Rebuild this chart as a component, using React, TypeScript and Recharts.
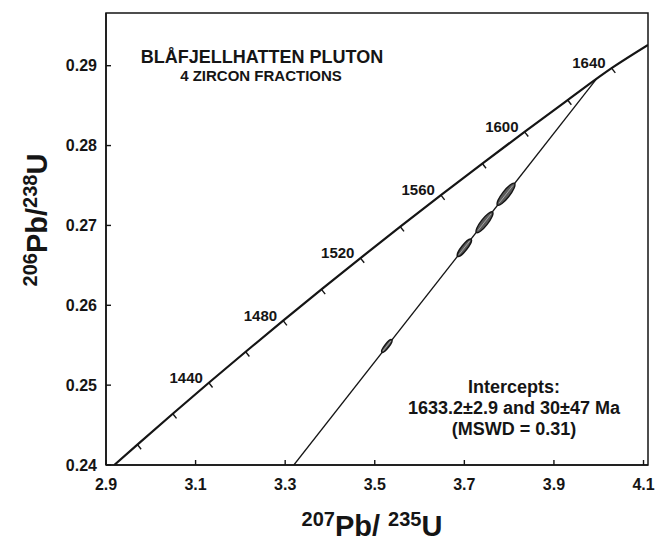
import { ComposedChart, Line, Scatter, XAxis, YAxis, ReferenceArea } from "recharts";

// axes
const X_MIN = 2.9;
const X_MAX = 4.11;
const Y_MIN = 0.24;
const Y_MAX = 0.2966;
const X_TICKS = [2.9, 3.1, 3.3, 3.5, 3.7, 3.9, 4.1];
const Y_TICKS = [0.24, 0.25, 0.26, 0.27, 0.28, 0.29];

// concordia age marks (Ma) and their ratios
const TICK_AGES = [1400, 1420, 1440, 1460, 1480, 1500, 1520, 1540, 1560, 1580, 1600, 1620, 1640];
const TICK_X = [2.9701, 3.0491, 3.1296, 3.2118, 3.2955, 3.381, 3.4681, 3.557, 3.6477, 3.7401, 3.8344, 3.9306, 4.0287];
const TICK_Y = [0.24256, 0.24642, 0.2503, 0.25418, 0.25808, 0.26199, 0.26591, 0.26984, 0.27379, 0.27775, 0.28172, 0.2857, 0.28969];
const LABELLED_AGES = [1440, 1480, 1520, 1560, 1600, 1640];
const CURVE_START = { x: 2.9184, y: 0.24 };
const CURVE_END = { x: 4.11, y: 0.2926 };

// discordia through the fractions
const DISC_X = [3.3194, 3.9951];
const DISC_Y = [0.24, 0.28834];

// zircon fractions
const FRAC_X = [3.527, 3.7, 3.745, 3.793];
const FRAC_Y = [0.2549, 0.2672, 0.2704, 0.2739];
const FRAC_ERR_X = [0.011, 0.015, 0.018, 0.019];

const W = 667;
const H = 544;
const MARGIN = { top: 13, right: 19, bottom: 49, left: 46 };
const Y_AXIS_W = 60;
const X_AXIS_H = 30;
const PLOT_W = W - MARGIN.left - MARGIN.right - Y_AXIS_W;
const PLOT_H = H - MARGIN.top - MARGIN.bottom - X_AXIS_H;
const PX_X = PLOT_W / (X_MAX - X_MIN);
const PX_Y = PLOT_H / (Y_MAX - Y_MIN);

const INK = "#151515";
const FONT = "'Liberation Sans', Arial, Helvetica, sans-serif";

const concordia = [
  CURVE_START,
  ...TICK_X.map((x, i) => ({ x, y: TICK_Y[i] })),
  CURVE_END,
];
const ageMarks = TICK_AGES.map((age, i) => ({ x: TICK_X[i], y: TICK_Y[i], age }));
const discordia = DISC_X.map((x, i) => ({ x, y: DISC_Y[i] }));
const fractions = FRAC_X.map((x, i) => ({ x, y: FRAC_Y[i], err: FRAC_ERR_X[i] }));

// pixel direction of the concordia, for the little age ticks
const cdx = (TICK_X[TICK_X.length - 1] - TICK_X[0]) * PX_X;
const cdy = (TICK_Y[TICK_Y.length - 1] - TICK_Y[0]) * PX_Y;
const clen = Math.hypot(cdx, cdy);
const NX = cdy / clen;
const NY = cdx / clen;

const ddx = (DISC_X[1] - DISC_X[0]) * PX_X;
const ddy = (DISC_Y[1] - DISC_Y[0]) * PX_Y;
const DISC_ANGLE = Math.atan2(ddy, ddx);

const AgeMark = (p: any) => {
  const { cx, cy, payload } = p;
  if (cx == null) return null;
  return (
    <g>
      <line x1={cx} y1={cy} x2={cx + NX * 6} y2={cy + NY * 6} stroke={INK} strokeWidth={1.4} />
      {LABELLED_AGES.includes(payload.age) && (
        <text x={cx - 6} y={cy} textAnchor="end" fontSize={15} fontWeight="bold" fill={INK} fontFamily={FONT}>
          {payload.age}
        </text>
      )}
    </g>
  );
};

const ErrorEllipse = (p: any) => {
  const { cx, cy, payload } = p;
  if (cx == null) return null;
  const rx = (payload.err * PX_X) / Math.cos(DISC_ANGLE);
  const ry = rx * 0.26;
  const deg = (-DISC_ANGLE * 180) / Math.PI;
  return (
    <g transform={`rotate(${deg} ${cx} ${cy})`}>
      <ellipse cx={cx} cy={cy} rx={rx} ry={ry} fill="#5a5a5a" stroke={INK} strokeWidth={1.4} />
      <line x1={cx - rx * 0.8} y1={cy} x2={cx + rx * 0.8} y2={cy} stroke="#b0b0b0" strokeWidth={0.8} />
    </g>
  );
};

const XTick = (p: any) => {
  const { x, y, payload } = p;
  return (
    <g>
      <line x1={x} y1={y} x2={x} y2={y - 5} stroke={INK} strokeWidth={1.4} />
      <text x={x} y={y + 25} textAnchor="middle" fontSize={16} fontWeight="bold" fill={INK} fontFamily={FONT}>
        {payload.value.toFixed(1)}
      </text>
    </g>
  );
};

const YTick = (p: any) => {
  const { x, y, payload } = p;
  return (
    <g>
      <line x1={x} y1={y} x2={x + 5} y2={y} stroke={INK} strokeWidth={1.4} />
      <text x={x - 9} y={y + 5.5} textAnchor="end" fontSize={16} fontWeight="bold" fill={INK} fontFamily={FONT}>
        {payload.value.toFixed(2)}
      </text>
    </g>
  );
};

export default function App() {
  return (
    <div style={{ position: "absolute", left: 0, top: 0, width: W, height: H, background: "#fff" }}>
      <ComposedChart width={W} height={H} margin={MARGIN}>
        <XAxis
          type="number"
          dataKey="x"
          domain={[X_MIN, X_MAX]}
          ticks={X_TICKS}
          allowDataOverflow
          height={X_AXIS_H}
          tickSize={0}
          tickMargin={0}
          tickLine={false}
          tick={<XTick />}
          axisLine={{ stroke: INK, strokeWidth: 1.5 }}
        />
        <YAxis
          type="number"
          dataKey="y"
          domain={[Y_MIN, Y_MAX]}
          ticks={Y_TICKS}
          allowDataOverflow
          width={Y_AXIS_W}
          tickSize={0}
          tickMargin={0}
          tickLine={false}
          tick={<YTick />}
          axisLine={{ stroke: INK, strokeWidth: 1.5 }}
        />
        <ReferenceArea x1={X_MIN} x2={X_MAX} y1={Y_MIN} y2={Y_MAX} fill="none" stroke={INK} strokeWidth={1.5} />
        <Line
          data={concordia}
          dataKey="y"
          type="monotone"
          stroke={INK}
          strokeWidth={2.2}
          dot={false}
          isAnimationActive={false}
        />
        <Line
          data={discordia}
          dataKey="y"
          type="linear"
          stroke={INK}
          strokeWidth={1.3}
          dot={false}
          isAnimationActive={false}
        />
        <Scatter data={ageMarks} dataKey="y" shape={<AgeMark />} isAnimationActive={false} />
        <Scatter data={fractions} dataKey="y" shape={<ErrorEllipse />} isAnimationActive={false} />
      </ComposedChart>
      <svg
        width={W}
        height={H}
        style={{ position: "absolute", left: 0, top: 0, pointerEvents: "none" }}
        fontFamily={FONT}
        fill={INK}
      >
        <text x={262} y={63} textAnchor="middle" fontSize={18} fontWeight="bold">
          BLÅFJELLHATTEN PLUTON
        </text>
        <text x={261} y={81} textAnchor="middle" fontSize={15} fontWeight="bold">
          4 ZIRCON FRACTIONS
        </text>
        <text x={514} y={393} textAnchor="middle" fontSize={18} fontWeight="bold">
          Intercepts:
        </text>
        <text x={514} y={414} textAnchor="middle" fontSize={18} fontWeight="bold">
          1633.2±2.9 and 30±47 Ma
        </text>
        <text x={514} y={435} textAnchor="middle" fontSize={18} fontWeight="bold">
          (MSWD = 0.31)
        </text>
        <text x={372} y={536} textAnchor="middle" fontSize={29} fontWeight="bold">
          <tspan fontSize={20} dy={-10}>207</tspan>
          <tspan dy={10}>Pb/ </tspan>
          <tspan fontSize={20} dy={-10}>235</tspan>
          <tspan dy={10}>U</tspan>
        </text>
        <text x={0} y={0} textAnchor="middle" fontSize={29} fontWeight="bold" transform="translate(47 220) rotate(-90)">
          <tspan fontSize={20} dy={-10}>206</tspan>
          <tspan dy={10}>Pb/</tspan>
          <tspan fontSize={20} dy={-10}>238</tspan>
          <tspan dy={10}>U</tspan>
        </text>
      </svg>
    </div>
  );
}
